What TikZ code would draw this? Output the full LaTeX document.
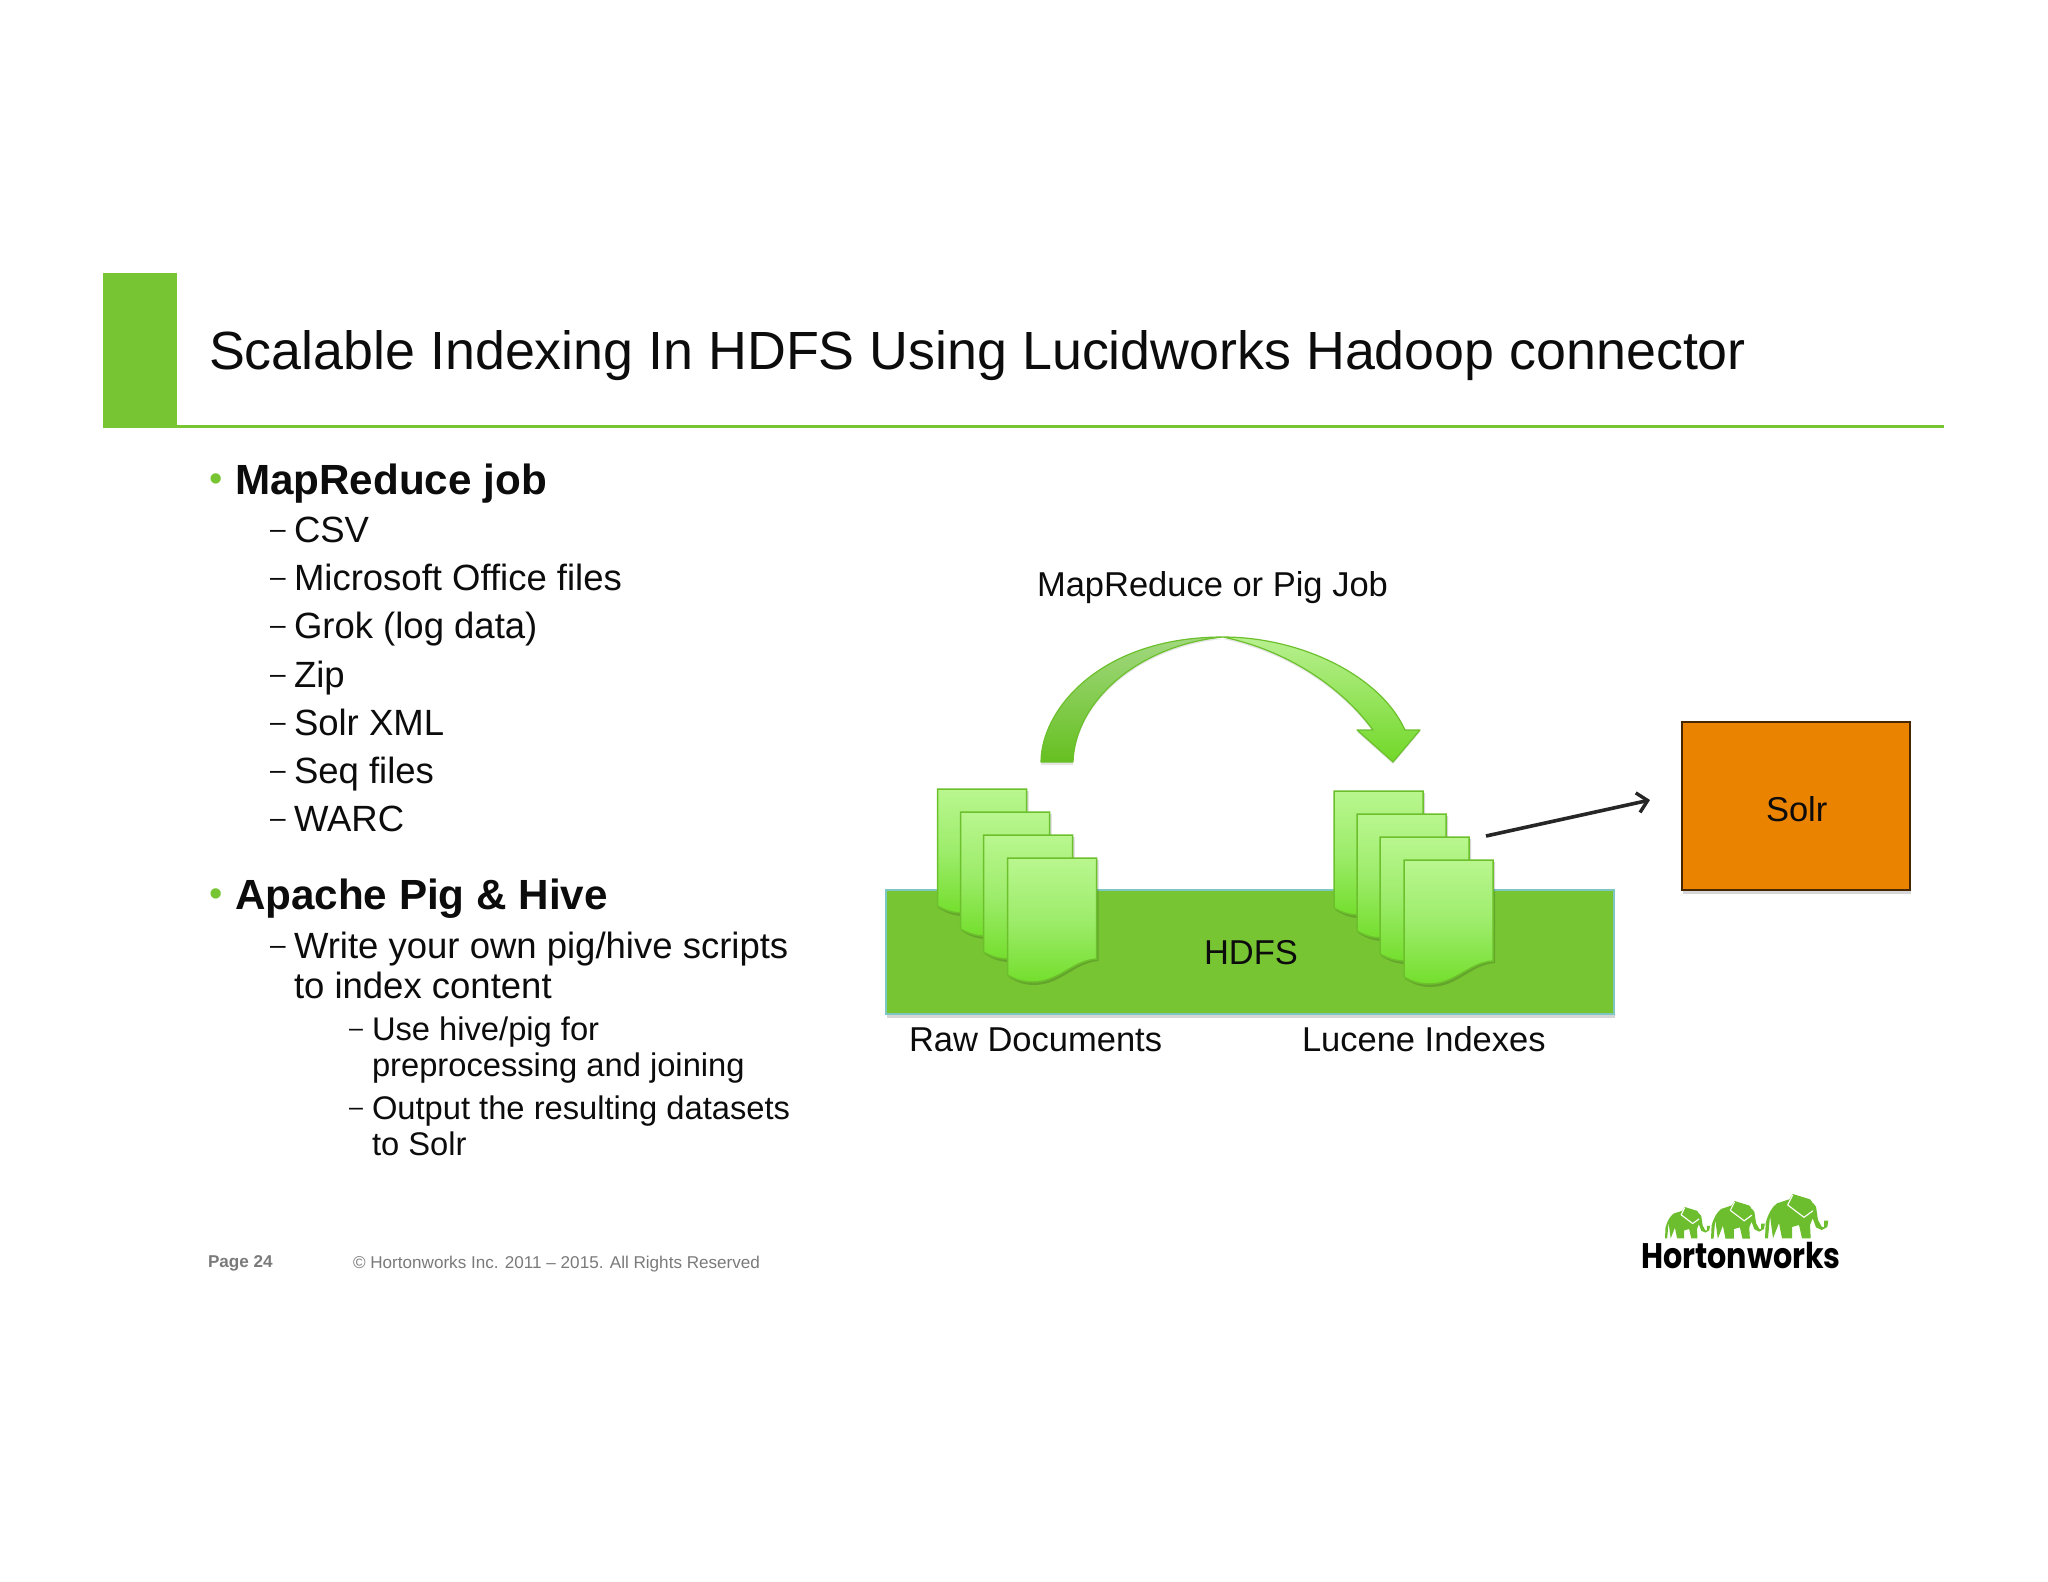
\documentclass[tikz,border=0pt]{standalone}
\usepackage{fontspec}
\setmainfont{Liberation Sans}
\newfontfamily\logofont{Poppins}
\usetikzlibrary{arrows.meta}
\definecolor{hwgreen}{HTML}{78C534}
\definecolor{hwedge}{HTML}{6CC02C}
\definecolor{hdfsblue}{HTML}{7CC8C0}
\definecolor{solrorange}{HTML}{E98300}
\definecolor{txt}{HTML}{0C0C0C}
\definecolor{foot}{HTML}{7A7A7A}
\definecolor{logogreen}{HTML}{6CBE2E}
\definecolor{DocTop}{HTML}{B9F78F}
\definecolor{DocMid}{HTML}{9DEC6B}
\definecolor{DocBottom}{HTML}{74DE2D}
\definecolor{ArcLTop}{HTML}{A2D880}
\definecolor{ArcLBot}{HTML}{66C020}
\definecolor{ArcRTop}{HTML}{B8F090}
\definecolor{ArcRBot}{HTML}{72D828}
\newcommand{\fs}[1]{\fontsize{#1}{#1}\selectfont}
\tikzset{
  lbl/.style={anchor=base west,inner sep=0pt,outer sep=0pt,text=txt},
  lone/.style={lbl,font=\fs{42.2}\bfseries},
  ltwo/.style={lbl,font=\fs{36.5}},
  lthree/.style={lbl,font=\fs{32.7}},
  diag/.style={lbl,font=\fs{34.5}},
  dashmark/.style={lbl,font=\fs{28}},
  bulletmark/.style={lbl,font=\fs{38},text=hwgreen},
  softshadow/.style={fill=black,fill opacity=.16},
  docsheet/.style={draw=hwedge,line width=1.5pt,top color=DocTop,bottom color=DocBottom,middle color=DocMid},
  pics/docshape/.style={code={
    \path[softshadow] (1,2) -- (91,2) -- (91,103) .. controls (66,105) and (54,127) .. (26,127)
      .. controls (14,127) and (6,122) .. (1,119) -- cycle;
    \path[docsheet] (0,0) -- (89,0) -- (89,101) .. controls (64,103) and (52,124) .. (25,124)
      .. controls (13,124) and (5,120) .. (0,117) -- cycle;
  }},
  pics/elephant/.style={code={
    \fill[logogreen] (0,44.3) -- (.7,29) .. controls (3,20) and (7,13) .. (12,9.3) -- (24.3,5.3) -- (27.7,0) -- (45,5.3)
      -- (51,12.7) -- (53,26) -- (56.7,32.7) -- (59,33.3) -- (59,26.7) -- (63.3,26.7) -- (62.3,33) -- (56.7,36)
      -- (51,33.3) -- (47.7,24.3) -- (45,31) -- (45.7,44.3) -- (37,44.3) -- (34,31) -- (27,33) -- (27,44.3)
      -- (17,44.3) -- (14,29) -- (8,44.3) -- (5,22) -- (3,44.3) -- cycle;
    \draw[white,line width=1.1pt,line join=round] (27.7,1) -- (22.7,11) -- (39,23.3) -- (48,16.7);
    \fill[white] (48,8) circle (1);
  }}
}
\begin{document}
\begin{tikzpicture}[x=1pt,y=-1pt]
\useasboundingbox (0,0) rectangle (2048,1582);
\fill[white] (0,0) rectangle (2048,1582);
% header
\fill[hwgreen] (103,273) rectangle (177,428);
\fill[hwgreen] (177,424.5) rectangle (1944,428);
\node[lbl,font=\fs{53.8}] (title) at (209,369) {Scalable Indexing In HDFS Using Lucidworks Hadoop connector};
% left column
\node[bulletmark] (b1) at (209,491) {•};
\node[lone] (t1) at (235,494) {MapReduce job};
\foreach \nm/\yy/\tt in {a/542/CSV,b/590/Microsoft Office files,c/638/Grok (log data),d/687/Zip,e/735/Solr XML,f/783/Seq files,g/831/WARC}{
  \node[dashmark] (dash\nm) at (270,\yy-4) {–};
  \node[ltwo] (item\nm) at (294,\yy) {\tt};
}
\node[bulletmark] (b2) at (209,906) {•};
\node[lone] (t2) at (235,909) {Apache Pig \& Hive};
\node[dashmark] (dashh) at (270,954) {–};
\node[ltwo] (h1) at (294,958) {Write your own pig/hive scripts};
\node[ltwo] (h2) at (294,998) {to index content};
\node[lbl,font=\fs{25}] (dashi) at (349,1036) {–};
\node[lthree] (i1) at (372,1040) {Use hive/pig for};
\node[lthree] (i2) at (372,1076) {preprocessing and joining};
\node[lbl,font=\fs{25}] (dashj) at (349,1115) {–};
\node[lthree] (j1) at (372,1119) {Output the resulting datasets};
\node[lthree] (j2) at (372,1155) {to Solr};
% footer
\node[lbl,font=\fs{17.1}\bfseries,text=foot] (page) at (208,1267) {Page 24};
\node[lbl,font=\fs{17.1},text=foot] (copy) at (353,1268.5) {© Hortonworks Inc. 2011 – 2015. All Rights Reserved};
% HDFS
\path[softshadow] (887,893) rectangle (1615,1018);
\path[draw=hdfsblue,line width=1.3pt,fill=hwgreen] (886,890) rectangle (1614,1014);
\node[diag] (hdfs) at (1204,964.5) {HDFS};
% documents
\foreach \dx/\dy in {0/0,23/23,46/46,70/69}{
  \pic at (937.5+\dx,789+\dy) {docshape};
  \pic at (1334+\dx,791+\dy) {docshape};
}
\node[diag] (raw) at (909,1051) {Raw Documents};
\node[diag] (luc) at (1302,1051) {Lucene Indexes};
\node[diag] (job) at (1037,596) {MapReduce or Pig Job};
% curved arrow
\path[softshadow,fill opacity=.10] (1041,765) .. controls (1041,712) and (1100,639) .. (1223,639)
  .. controls (1300,639) and (1380,677) .. (1405,732) -- (1420,732) -- (1393,764) -- (1357,732) -- (1373,732)
  .. controls (1340,687) and (1285,652) .. (1223,639)
  .. controls (1140,647) and (1075,702) .. (1073,765) -- cycle;
\path[top color=ArcLTop,bottom color=ArcLBot] (1041,762) .. controls (1041,710) and (1100,637) .. (1223,637)
  .. controls (1140,645) and (1075,700) .. (1073,762) -- cycle;
\path[top color=ArcRTop,bottom color=ArcRBot] (1223,637) .. controls (1300,637) and (1380,675) .. (1405,730)
  -- (1420,730) -- (1393,762) -- (1357,730) -- (1373,730)
  .. controls (1340,685) and (1285,650) .. (1223,637) -- cycle;
\draw[draw=hwedge,line width=1.2pt,line join=round]
  (1041,762) .. controls (1041,710) and (1100,637) .. (1223,637)
  .. controls (1300,637) and (1380,675) .. (1405,730)
  -- (1420,730) -- (1393,762) -- (1357,730) -- (1373,730)
  .. controls (1340,685) and (1285,650) .. (1223,637)
  .. controls (1140,645) and (1075,700) .. (1073,762) -- cycle;
% Solr
\path[softshadow] (1683,724) rectangle (1911,894);
\path[draw=black!70!solrorange,line width=1.2pt,fill=solrorange] (1682,722) rectangle (1910,890);
\node[diag] (solr) at (1766,821) {Solr};
% arrow
\coordinate (arrA) at (1486,836);
\coordinate (arrB) at (1650,800);
\draw[line width=3.6pt,draw=black!85,-{Straight Barb[length=10pt,width=20pt,line width=3.4pt]}] (arrA) -- (arrB);
% logo
\pic[scale=.71] at (1665,1207) {elephant};
\pic[scale=.85] at (1711,1201) {elephant};
\pic at (1765,1194) {elephant};
\node[lbl,font=\fs{35.5}\logofont\bfseries,text=black,xscale=.85] (logo) at (1641,1268) {Hortonworks};
\end{tikzpicture}
\end{document}
